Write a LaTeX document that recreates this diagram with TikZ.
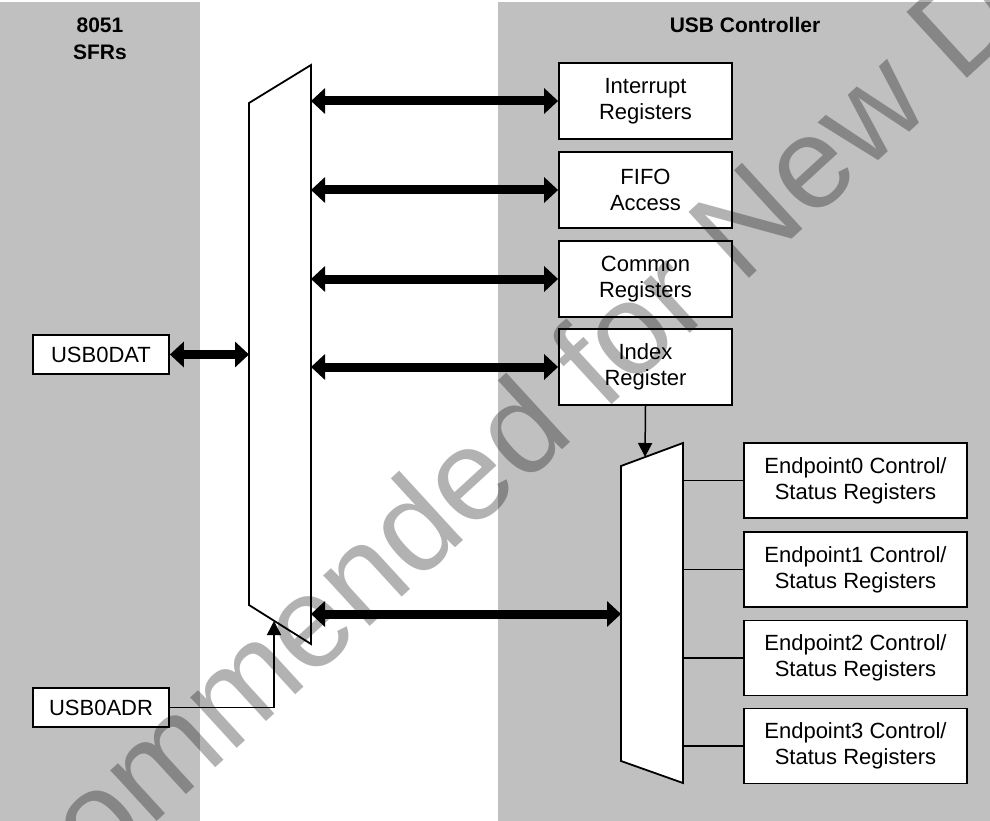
\documentclass[tikz,border=0pt]{standalone}
\usepackage{fontspec}
\setmainfont{Liberation Sans}
\usetikzlibrary{arrows.meta}
\definecolor{bandgray}{HTML}{C0C0C0}
\tikzset{
  usbband/.style={fill=bandgray,draw=none},
  usbtitle/.style={align=center,font=\bfseries\fontsize{21}{27}\selectfont},
  usbbox/.style={draw=black,fill=white,line width=1.8pt,align=center,inner sep=0pt,
    font=\fontsize{22}{26}\selectfont},
  regbox/.style={usbbox,minimum width=173pt,minimum height=76pt},
  epbox/.style={usbbox,minimum width=223pt,minimum height=75pt},
  sfrbox/.style={usbbox,minimum width=136pt,minimum height=39pt},
  usbmux/.style={draw=black,fill=white,line width=1.8pt,line join=miter},
  usbbus/.style={{Triangle[length=14pt,width=25pt]}-{Triangle[length=14pt,width=25pt]},line width=9pt},
  usbwire/.style={line width=1.5pt},
  usbsel/.style={-{Triangle[length=14pt,width=14pt]},line width=1.5pt},
  watermark/.style={text=black,text opacity=0.3,font=\fontsize{130}{130}\selectfont,rotate=42.5}
}
\begin{document}
\begin{tikzpicture}[x=1pt,y=-1pt]
  \useasboundingbox (0,0) rectangle (990,821);
  \fill[white] (0,0) rectangle (990,821);
  \path[usbband] (0,2) rectangle (200,821);
  \path[usbband] (498,2) rectangle (990,821);
  \node[usbtitle] (sfrtitle) at (100,39) {8051\\SFRs};
  \node[usbtitle] (usbtitle) at (745,25) {USB Controller};
  % main mux
  \coordinate (m1nw) at (249,103);
  \coordinate (m1ne) at (311,65);
  \coordinate (m1se) at (311,644);
  \coordinate (m1sw) at (249,605);
  \draw[usbmux] (m1nw) -- (m1ne) -- (m1se) -- (m1sw) -- cycle;
  % endpoint mux
  \coordinate (m2nw) at (621,466);
  \coordinate (m2ne) at (683,443);
  \coordinate (m2se) at (683,783);
  \coordinate (m2sw) at (621,761);
  \draw[usbmux] (m2nw) -- (m2ne) -- (m2se) -- (m2sw) -- cycle;
  \node[regbox] (intr) at (645.5,101) {Interrupt\\Registers};
  \node[regbox] (fifo) at (645.5,190) {FIFO\\Access};
  \node[regbox] (common) at (645.5,279) {Common\\Registers};
  \node[regbox] (index) at (645.5,367) {Index\\Register};
  \node[epbox] (ep0) at (855.5,480.5) {Endpoint0 Control/\\Status Registers};
  \node[epbox] (ep1) at (855.5,569.5) {Endpoint1 Control/\\Status Registers};
  \node[epbox] (ep2) at (855.5,658) {Endpoint2 Control/\\Status Registers};
  \node[epbox] (ep3) at (855.5,746) {Endpoint3 Control/\\Status Registers};
  \node[sfrbox] (usbdat) at (101,354.5) {USB0DAT};
  \node[sfrbox] (usbadr) at (101,707.5) {USB0ADR};
  \coordinate (adrin) at (274,621);
  \coordinate (selin) at (645,457);
  \coordinate (busl) at (311,614);
  \coordinate (busr) at (621,614);
  \foreach \reg in {intr,fifo,common,index}
    \draw[usbbus] (\reg.west -| m1ne) -- (\reg.west);
  \draw[usbbus] (usbdat.east) -- (usbdat.east -| m1nw);
  \draw[usbbus] (busl) -- (busr);
  \draw[usbsel] (usbadr.east) -| (adrin);
  \draw[usbsel] (index.south) -- (selin);
  \foreach \ep in {ep0,ep1,ep2,ep3}
    \draw[usbwire] (\ep.west -| m2ne) -- (\ep.west);
  \begin{scope}
    \clip (0,0) rectangle (990,821);
    \node[watermark] (wmark) at (482,478) {Not Recommended for New Design};
  \end{scope}
\end{tikzpicture}
\end{document}
